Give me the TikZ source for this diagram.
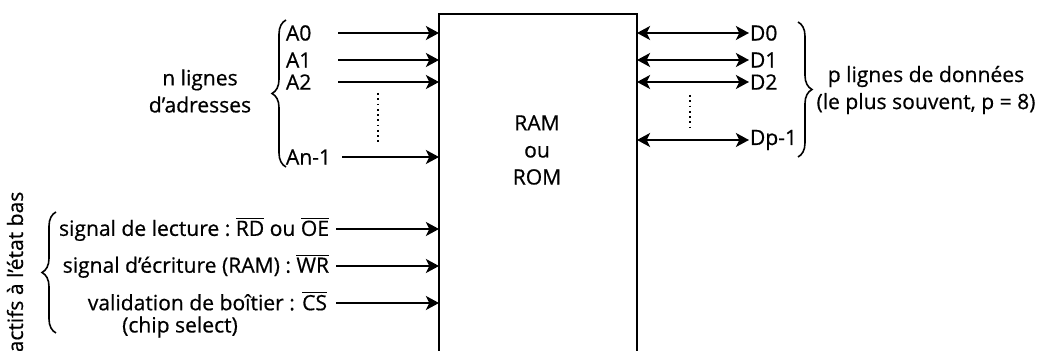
\documentclass[tikz,border=0pt]{standalone}
\usepackage{fontspec}
\setmainfont{Open Sans}[FakeBold = 0.6]
\usetikzlibrary{arrows.meta,decorations.pathreplacing}

\begin{document}
\begin{tikzpicture} [x = 0.02cm, y = -0.02cm, line width = 1.1pt,
	font = \fontsize{12}{15.4}\selectfont,
	sig/.style = {-{Stealth[length = 7.5pt, width = 8pt, inset = 2pt]}},
	bus/.style = {{Stealth[length = 7.5pt, width = 8pt, inset = 2pt]}-{Stealth[length = 7.5pt, width = 8pt, inset = 2pt]}},
	lbl/.style = {inner sep = 0pt},
	accolade/.style = {decorate, decoration = {brace, amplitude = 0.28cm}, line width = 0.9pt},
	pointilles/.style = {dotted, line width = 1pt}]
	\useasboundingbox (0,0) rectangle (1042,351);
	% boitier
	\node [minimum width = 3.96cm, minimum height = 6.76cm, inner sep = 0pt, outer sep = 0pt] (mem) at (538,183) {};
	\draw [line width = 0.8pt] (mem.south west) |- (mem.north east) -- (mem.south east);
	\node [align = center] (ram) at (537,150) {RAM\\ou\\ROM};
	% adresses
	\node [lbl, anchor = west] (a0) at (285,33) {A0};
	\node [lbl, anchor = west] (a1) at (285,60) {A1};
	\node [lbl, anchor = west] (a2) at (285,82) {A2};
	\node [lbl, anchor = west] (an) at (285,157) {An-1};
	\coordinate (a0s) at (338,33);
	\coordinate (a1s) at (338,60);
	\coordinate (a2s) at (338,82);
	\coordinate (ans) at (342,157);
	\draw [sig] (a0s) -- (a0s -| mem.west);
	\draw [sig] (a1s) -- (a1s -| mem.west);
	\draw [sig] (a2s) -- (a2s -| mem.west);
	\draw [sig] (ans) -- (ans -| mem.west);
	\draw [pointilles] (378,93) -- (378,145);
	\draw [accolade] (286,167) -- (286,20);
	\node [align = center] (nadr) at (200,91) {n lignes\\d'adresses};
	% donnees
	\node [lbl, anchor = west] (d0) at (749,33) {D0};
	\node [lbl, anchor = west] (d1) at (749,60) {D1};
	\node [lbl, anchor = west] (d2) at (749,82) {D2};
	\node [lbl, anchor = west] (dp) at (749,140) {Dp-1};
	\draw [bus] (mem.east |- d0) -- (d0.west);
	\draw [bus] (mem.east |- d1) -- (d1.west);
	\draw [bus] (mem.east |- d2) -- (d2.west);
	\draw [bus] (mem.east |- dp) -- (dp.west);
	\draw [pointilles] (690,95) -- (690,127);
	\draw [accolade] (798,22) -- (798,157);
	\node [align = center] (pdon) at (926,90) {p lignes de données\\(le plus souvent, p = 8)};
	% commandes
	\node [lbl, anchor = east] (rd) at (330,229) {signal de lecture :\ $\overline{\mbox{RD}}$ ou $\overline{\mbox{OE}}$};
	\node [lbl, anchor = east] (wr) at (330,266) {signal d'écriture (RAM) : $\overline{\mbox{WR}}$};
	\node [lbl, anchor = east] (cs) at (328,301) {validation de boîtier : $\overline{\mbox{CS}}$};
	\node [lbl] (chip) at (180,327) {(chip select)};
	\coordinate (rds) at (336,229);
	\coordinate (wrs) at (336,266);
	\coordinate (css) at (336,303);
	\draw [sig] (rds) -- (rds -| mem.west);
	\draw [sig] (wrs) -- (wrs -| mem.west);
	\draw [sig] (css) -- (css -| mem.west);
	\draw [accolade] (56,333) -- (56,212);
	\node [rotate = 90] (actifs) at (15,272) {actifs à l'état bas};
\end{tikzpicture}
\end{document}
